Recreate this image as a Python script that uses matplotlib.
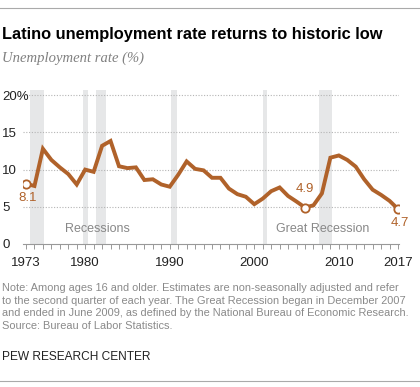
import matplotlib
matplotlib.use("Agg")
import matplotlib.pyplot as plt
from matplotlib.ticker import MultipleLocator

years = list(range(1973, 2018))
rate = [8.1, 7.8, 12.8, 11.3, 10.3, 9.4, 8.0, 10.0, 9.7, 13.2, 13.85, 10.45,
        10.2, 10.3, 8.6, 8.7, 8.0, 7.7, 9.3, 11.1, 10.1, 9.9, 8.9, 8.9,
        7.45, 6.7, 6.35, 5.35, 6.1, 7.1, 7.6, 6.45, 5.7, 4.9, 5.2, 6.8,
        11.6, 11.9, 11.3, 10.4, 8.7, 7.3, 6.6, 5.8, 4.7]
recessions = [(1973.5, 1975.1), (1979.7, 1980.3), (1981.3, 1982.45),
              (1990.1, 1990.9), (2001.0, 2001.55), (2007.65, 2009.25)]
label_years = [1973, 1980, 1990, 2000, 2010, 2017]
highlight = {1973: "8.1", 2006: "4.9", 2017: "4.7"}

brown = "#b0622a"
W, H = 420, 387
fig = plt.figure(figsize=(W / 100, H / 100), dpi=100)

def fx(px):
    return px / W

def fy(py):
    return 1 - py / H

ax = fig.add_axes([fx(23), fy(244), fx(376), fy(90) - fy(244)])
ax.set_xlim(1972.645, 2017.118)
ax.set_ylim(0, 20.7)

for a, b in recessions:
    ax.axvspan(a, b, color="#e6e7e8", lw=0, zorder=0)

for v in [5, 10, 15, 20]:
    ax.axhline(v, color="#b5b5b5", lw=0.8, ls=(0, (1, 1.5)), zorder=1)

ax.plot(years, rate, color=brown, lw=2.8, solid_joinstyle="miter", zorder=3)
for yr, txt in highlight.items():
    val = rate[years.index(yr)]
    ax.plot(yr, val, "o", ms=6, mfc="white", mec=brown, mew=1.3, zorder=4)
    if yr == 2006:
        ax.annotate(txt, (yr, val), xytext=(0, 9), textcoords="offset points",
                    ha="center", va="bottom", color=brown, fontsize=9.5,
                    family="Liberation Sans")
    else:
        ax.annotate(txt, (yr, val), xytext=(1, -6), textcoords="offset points",
                    ha="center", va="top", color=brown, fontsize=9.5,
                    family="Liberation Sans")

ax.text(1981.4, 2.0, "Recessions", color="#888888", fontsize=9,
        family="Liberation Sans", ha="center", va="center")
ax.text(2008.1, 2.0, "Great Recession", color="#888888", fontsize=9,
        family="Liberation Sans", ha="center", va="center")

for s in ["top", "right", "left"]:
    ax.spines[s].set_visible(False)
ax.spines["bottom"].set_color("#999999")
ax.spines["bottom"].set_linewidth(0.8)

ax.set_xticks(label_years)
ax.set_xticklabels([str(y) for y in label_years], family="Liberation Sans",
                   fontsize=9.5, color="#222222")
ax.xaxis.set_minor_locator(MultipleLocator(1))
ax.tick_params(axis="x", which="both", direction="out", length=3.5,
               width=0.7, color="#999999", pad=6)

ax.set_yticks([0, 5, 10, 15, 20])
ax.set_yticklabels(["0", "5", "10", "15", "20%"], family="Liberation Sans",
                   fontsize=9.5, color="#222222", ha="left")
ax.tick_params(axis="y", length=0, pad=14.8)

fig.add_artist(plt.Line2D([0, 1], [fy(8), fy(8)], color="#aaaaaa", lw=0.8))
fig.add_artist(plt.Line2D([0, 1], [fy(381), fy(381)], color="#aaaaaa", lw=0.8))

fig.text(fx(2), fy(35), "Latino unemployment rate returns to historic low",
         fontsize=11.8, fontweight="bold", family="Liberation Sans",
         va="center", ha="left", color="#000000")
fig.text(fx(2), fy(58), "Unemployment rate (%)", fontsize=10.5,
         style="italic", family="Liberation Serif", va="center", ha="left",
         color="#808080")

note = ("Note: Among ages 16 and older. Estimates are non-seasonally adjusted and refer\n"
        "to the second quarter of each year. The Great Recession began in December 2007\n"
        "and ended in June 2009, as defined by the National Bureau of Economic Research.\n"
        "Source: Bureau of Labor Statistics.")
fig.text(fx(2), fy(283), note, fontsize=7.95, family="Liberation Sans",
         va="top", ha="left", color="#8a8a8a", linespacing=1.33)
fig.text(fx(2), fy(357), "PEW RESEARCH CENTER", fontsize=8.6,
         family="Liberation Sans", va="center", ha="left", color="#222222")

fig.savefig("out.png", dpi=100)
